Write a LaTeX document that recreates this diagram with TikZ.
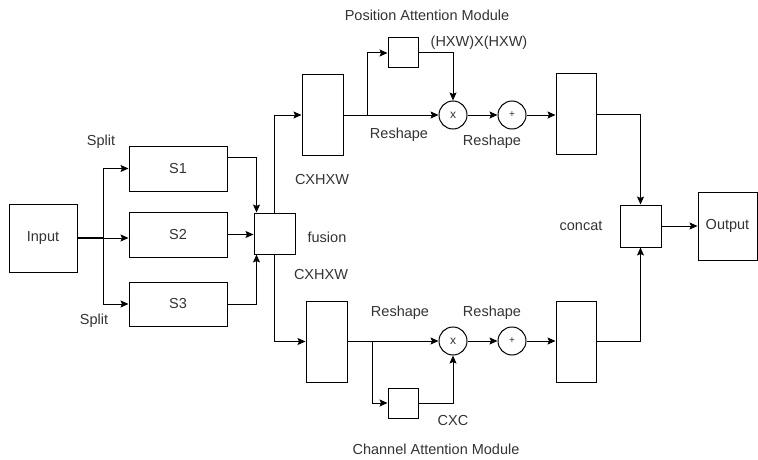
\documentclass[tikz,border=0pt]{standalone}
\usepackage{fontspec}
\setmainfont{Liberation Sans}
\usetikzlibrary{arrows.meta}
\begin{document}
\begin{tikzpicture}[x=1pt,y=-1pt,
  every node/.style={font=\fontsize{14.5}{16}\selectfont, text=black!80},
  box/.style={draw, line width=1pt, inner sep=0pt},
  op/.style={draw, circle, line width=1pt, minimum size=28pt, inner sep=0pt, font=\fontsize{12}{13}\selectfont},
  lbl/.style={inner sep=0pt},
  arr/.style={line width=1pt, -{Stealth[length=8pt,width=7pt,inset=1.5pt]}},
  ln/.style={line width=1pt}]
\useasboundingbox (0,0) rectangle (758,460);
% nodes
\node[box, minimum width=68pt, minimum height=68pt] (input) at (43,238) {Input};
\node[box, minimum width=98pt, minimum height=45pt] (s1) at (178,168.5) {S1};
\node[box, minimum width=98pt, minimum height=45pt] (s2) at (178,234.5) {S2};
\node[box, minimum width=98pt, minimum height=44pt] (s3) at (178,304) {S3};
\node[box, minimum width=41pt, minimum height=41pt] (fusion) at (274.5,233.5) {};
\node[box, minimum width=41pt, minimum height=81pt] (pa) at (322.5,115) {};
\node[box, minimum width=30pt, minimum height=30pt] (pq) at (403,53) {};
\node[op] (px) at (453,115) {x};
\node[op, font=\fontsize{10}{11}\selectfont] (pp) at (512,115) {+};
\node[box, minimum width=40pt, minimum height=81pt] (pr) at (576,114) {};
\node[box, minimum width=41pt, minimum height=81pt] (la) at (326.5,341.5) {};
\node[box, minimum width=30pt, minimum height=30pt] (lq) at (403,403) {};
\node[op] (lx) at (453,341) {x};
\node[op, font=\fontsize{10}{11}\selectfont] (lp) at (512,341) {+};
\node[box, minimum width=40pt, minimum height=81pt] (lr) at (576,341.5) {};
\node[box, minimum width=41pt, minimum height=42pt] (concat) at (640.5,226) {};
\node[box, minimum width=59pt, minimum height=68pt] (output) at (727.5,226) {Output};
% labels
\node[lbl] (tsplit1) at (101,142) {Split};
\node[lbl] (tsplit2) at (94,321) {Split};
\node[lbl] (tfusion) at (327,237) {fusion};
\node[lbl] (tc1) at (322,180) {CXHXW};
\node[lbl] (tc2) at (321,275) {CXHXW};
\node[lbl] (tpam) at (427,15) {Position Attention Module};
\node[lbl] (thxw) at (479,43) {(HXW)X(HXW)};
\node[lbl] (tr1) at (399,135) {Reshape};
\node[lbl] (tr2) at (492,142) {Reshape};
\node[lbl] (tr3) at (400,313) {Reshape};
\node[lbl] (tr4) at (492,313) {Reshape};
\node[lbl] (tcxc) at (453,421) {CXC};
\node[lbl] (tcam) at (436,449) {Channel Attention Module};
\node[lbl] (tconcat) at (581,226) {concat};
% connectors
\coordinate (split) at (103,238);
\draw[line width=2pt] (input.east) -- (split);
\draw[arr] (split) |- (s1.west);
\draw[arr] (split) -- (split -| s2.west);
\draw[arr] (split) |- (s3.west);
\draw[arr] ([yshift=11.5pt]s1.east) -| ([xshift=3pt]fusion.north west);
\draw[arr] (s2.east) -- (s2.east -| fusion.west);
\draw[arr] (s3.east) -| ([xshift=3pt]fusion.south west);
\draw[arr] (fusion.north) |- (pa.west);
\draw[arr] (fusion.south) |- (la.west);
% position branch
\coordinate (pb) at (367,115);
\draw[arr] (pa.east) -- (px.west);
\draw[arr] (pb) |- (pq.west);
\draw[arr] (pq.east) -| (px.north);
\draw[arr] (px.east) -- (pp.west);
\draw[arr] (pp.east) -- (pp.east -| pr.west);
\draw[arr] (pr.east) -| (concat.north);
% channel branch
\coordinate (lb) at (372,341);
\draw[arr] (la.east |- lx) -- (lx.west);
\draw[arr] (lb) |- (lq.west);
\draw[arr] (lq.east) -| (lx.south);
\draw[arr] (lx.east) -- (lp.west);
\draw[arr] (lp.east) -- (lp.east -| lr.west);
\draw[arr] (lr.east |- lp) -| (concat.south);
\draw[arr] (concat.east) -- (output.west);
\end{tikzpicture}
\end{document}
